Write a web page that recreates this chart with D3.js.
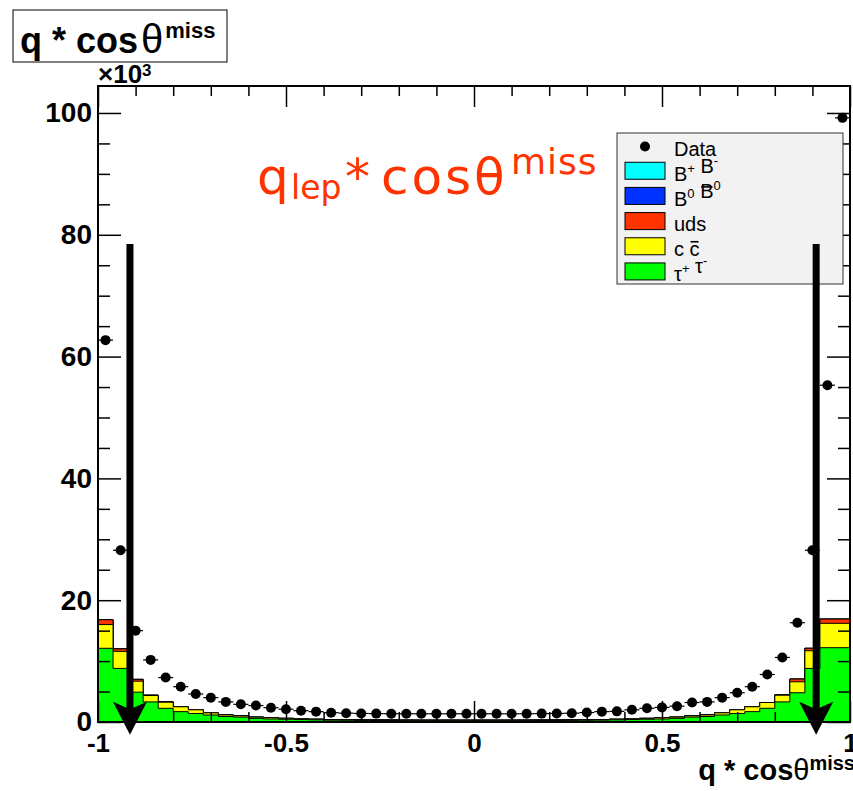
<!DOCTYPE html>
<html>
<head>
<meta charset="utf-8">
<script src="https://cdn.jsdelivr.net/npm/d3@7/dist/d3.min.js"></script>
<style>
  body { margin: 0; background: #fff; }
  svg { display: block; }
</style>
</head>
<body>
<div id="chart"></div>
<script>
// bin centres of the 50 bins between -1 and 1
const binCenters = [
  -0.98, -0.94, -0.90, -0.86, -0.82, -0.78, -0.74, -0.70, -0.66, -0.62,
  -0.58, -0.54, -0.50, -0.46, -0.42, -0.38, -0.34, -0.30, -0.26, -0.22,
  -0.18, -0.14, -0.10, -0.06, -0.02, 0.02, 0.06, 0.10, 0.14, 0.18,
  0.22, 0.26, 0.30, 0.34, 0.38, 0.42, 0.46, 0.50, 0.54, 0.58,
  0.62, 0.66, 0.70, 0.74, 0.78, 0.82, 0.86, 0.90, 0.94, 0.98
];
const binHalf = 0.02;

// data points (x10^3)
const dataCounts = [
  62.7, 28.2, 15.0, 10.2, 7.3, 5.8, 4.6, 4.0, 3.3, 2.9,
  2.7, 2.35, 2.1, 1.86, 1.7, 1.53, 1.45, 1.4, 1.38, 1.36,
  1.35, 1.35, 1.35, 1.35, 1.35, 1.35, 1.35, 1.35, 1.36, 1.38,
  1.4, 1.45, 1.55, 1.7, 1.75, 2.0, 2.25, 2.4, 2.6, 3.2,
  3.3, 4.0, 4.8, 5.8, 7.8, 10.6, 16.3, 28.2, 55.3, 99.2
];

// MC components (x10^3), stacked bottom -> top
const tautau = [
  12.1, 8.8, 4.9, 3.3, 2.25, 1.7, 1.4, 1.15, 0.9, 0.8,
  0.6, 0.5, 0.45, 0.4, 0.35, 0.3, 0.28, 0.26, 0.25, 0.24,
  0.23, 0.22, 0.22, 0.22, 0.22, 0.22, 0.22, 0.22, 0.23, 0.24,
  0.25, 0.26, 0.28, 0.3, 0.35, 0.4, 0.45, 0.5, 0.6, 0.8,
  0.9, 1.15, 1.4, 1.7, 2.25, 3.3, 4.8, 8.8, 12.2, 12.2
];
const ccbar = [
  3.9, 2.8, 1.8, 1.05, 1.0, 0.8, 0.6, 0.35, 0.25, 0.2,
  0.2, 0.2, 0.15, 0.12, 0.1, 0.1, 0.09, 0.08, 0.08, 0.08,
  0.08, 0.08, 0.08, 0.08, 0.08, 0.08, 0.08, 0.08, 0.08, 0.08,
  0.08, 0.08, 0.09, 0.1, 0.1, 0.12, 0.15, 0.2, 0.2, 0.2,
  0.25, 0.35, 0.6, 0.8, 0.95, 1.1, 1.8, 2.9, 4.0, 4.0
];
const uds = [
  0.8, 0.4, 0.3, 0.05, 0.05, 0, 0, 0, 0, 0,
  0, 0, 0, 0, 0, 0, 0, 0, 0, 0,
  0, 0, 0, 0, 0, 0, 0, 0, 0, 0,
  0, 0, 0, 0, 0, 0, 0, 0, 0, 0,
  0, 0, 0, 0, 0, 0.05, 0.45, 0.4, 0.7, 0.7
];
const b0b0 = new Array(50).fill(0);
const bpbm = new Array(50).fill(0);

const yMajor = [0, 20, 40, 60, 80, 100];
const yMinor = [5, 10, 15, 25, 30, 35, 45, 50, 55, 65, 70, 75, 85, 90, 95];
const xMajor = [-1, -0.5, 0, 0.5, 1];
const xMinor = [-0.9, -0.8, -0.7, -0.6, -0.4, -0.3, -0.2, -0.1, 0.1, 0.2, 0.3, 0.4, 0.6, 0.7, 0.8, 0.9];

// cut positions drawn as arrows
const arrowX = [-0.915, 0.91];
const arrowTop = 78.5;
const arrowTip = -2.1;

const legendLabels = ["Data", "B+B-", "B0B0", "uds", "cc", "tautau"];

const W = 853, H = 791;
const frame = { left: 98, right: 850, top: 86, bottom: 722 };
const font = "'Liberation Sans', Arial, Helvetica, sans-serif";

const svg = d3.select("#chart").append("svg")
  .attr("width", W).attr("height", H)
  .style("font-family", font);

const x = d3.scaleLinear().domain([-1, 1]).range([frame.left, frame.right]);
const y = d3.scaleLinear().domain([0, 104.43]).range([frame.bottom, frame.top]);

// ---- stacked histogram ----
const layers = [
  { vals: tautau, color: "#00ff00" },
  { vals: ccbar, color: "#ffff00" },
  { vals: uds, color: "#ff3300" },
  { vals: b0b0, color: "#0033ff" },
  { vals: bpbm, color: "#00ffff" }
];
let cum = binCenters.map(() => 0);
layers.forEach(l => {
  cum = cum.map((c, i) => c + l.vals[i]);
  l.tot = cum.slice();
});

const area = d3.area().curve(d3.curveStepAfter)
  .x(d => x(d.x0)).y0(y(0)).y1(d => y(d.v));
const line = d3.line().curve(d3.curveStepAfter)
  .x(d => x(d.x0)).y(d => y(d.v));

const gHist = svg.append("g");
layers.slice().reverse().forEach(l => {
  const pts = binCenters.map((c, i) => ({ x0: c - binHalf, v: l.tot[i] }));
  pts.push({ x0: 1, v: l.tot[l.tot.length - 1] });
  gHist.append("path").datum(pts)
    .attr("d", area).attr("fill", l.color).attr("stroke", "none");
  gHist.append("path").datum(pts)
    .attr("d", line).attr("fill", "none")
    .attr("stroke", "#000").attr("stroke-width", 1);
});

// ---- axes (ROOT style, ticks inside) ----
function styleAxis(g) {
  g.select(".domain").remove();
  g.selectAll("line").attr("stroke", "#000").attr("stroke-width", 1.5);
  g.selectAll("text").attr("fill", "#000").style("font-weight", "bold");
}

svg.append("g").attr("transform", "translate(0," + frame.bottom + ")")
  .call(d3.axisBottom(x).tickValues(xMajor).tickSize(-21).tickPadding(12)
    .tickFormat(d => d === 0 ? "0" : String(d)))
  .call(styleAxis)
  .selectAll("text").style("font-size", "26px");
svg.append("g").attr("transform", "translate(0," + frame.bottom + ")")
  .call(d3.axisBottom(x).tickValues(xMinor).tickSize(-10).tickFormat(""))
  .call(styleAxis);
svg.append("g").attr("transform", "translate(0," + frame.top + ")")
  .call(d3.axisTop(x).tickValues(xMajor).tickSize(-21).tickFormat(""))
  .call(styleAxis);
svg.append("g").attr("transform", "translate(0," + frame.top + ")")
  .call(d3.axisTop(x).tickValues(xMinor).tickSize(-10).tickFormat(""))
  .call(styleAxis);

svg.append("g").attr("transform", "translate(" + frame.left + ",0)")
  .call(d3.axisLeft(y).tickValues(yMajor).tickSize(-23).tickPadding(6))
  .call(styleAxis)
  .selectAll("text").style("font-size", "28px");
svg.append("g").attr("transform", "translate(" + frame.left + ",0)")
  .call(d3.axisLeft(y).tickValues(yMinor).tickSize(-12).tickFormat(""))
  .call(styleAxis);
svg.append("g").attr("transform", "translate(" + frame.right + ",0)")
  .call(d3.axisRight(y).tickValues(yMajor).tickSize(-23).tickFormat(""))
  .call(styleAxis);
svg.append("g").attr("transform", "translate(" + frame.right + ",0)")
  .call(d3.axisRight(y).tickValues(yMinor).tickSize(-12).tickFormat(""))
  .call(styleAxis);

svg.append("rect")
  .attr("x", frame.left).attr("y", frame.top)
  .attr("width", frame.right - frame.left).attr("height", frame.bottom - frame.top)
  .attr("fill", "none").attr("stroke", "#000").attr("stroke-width", 2);

// x10^3 multiplier
const mult = svg.append("text").attr("x", 98).attr("y", 83)
  .style("font-size", "26px").style("font-weight", "bold");
mult.append("tspan").text("\u00d710");
mult.append("tspan").attr("dy", -7).style("font-size", "17px").text("3");

// ---- data points ----
const gData = svg.append("g");
gData.selectAll("line.err").data(binCenters).enter().append("line")
  .attr("x1", d => x(d - binHalf)).attr("x2", d => x(d + binHalf))
  .attr("y1", (d, i) => y(dataCounts[i])).attr("y2", (d, i) => y(dataCounts[i]))
  .attr("stroke", "#000").attr("stroke-width", 1.2);
gData.selectAll("circle").data(binCenters).enter().append("circle")
  .attr("cx", d => x(d)).attr("cy", (d, i) => y(dataCounts[i]))
  .attr("r", 5).attr("fill", "#000");

// ---- legend ----
const leg = { x: 617, y: 133, w: 226, h: 151 };
const gLeg = svg.append("g");
gLeg.append("rect").attr("x", leg.x).attr("y", leg.y)
  .attr("width", leg.w).attr("height", leg.h)
  .attr("fill", "#f2f2f2").attr("stroke", "#333").attr("stroke-width", 1);
const rowH = leg.h / legendLabels.length;
const legColors = [null, "#00ffff", "#0033ff", "#ff3300", "#ffff00", "#00ff00"];
const bars = [];
legendLabels.forEach((lab, i) => {
  const cy = leg.y + rowH * (i + 0.5);
  if (i === 0) {
    gLeg.append("circle").attr("cx", 645).attr("cy", cy + 1).attr("r", 5).attr("fill", "#000");
  } else {
    gLeg.append("rect").attr("x", 625).attr("y", cy - 8.5).attr("width", 40).attr("height", 17)
      .attr("fill", legColors[i]).attr("stroke", "#000").attr("stroke-width", 1);
  }
  const base = cy + 10;
  const t = gLeg.append("text").attr("x", 674).attr("y", base).style("font-size", "20px");
  const sup = (s) => { t.append("tspan").attr("dy", -8).style("font-size", "13px").text(s); t.append("tspan").attr("dy", 8).text(""); };
  // letter that gets a bar on top (anti-particle)
  const barred = (s, h) => { bars.push({ node: t.append("tspan").text(s).node(), y: base - h }); };
  if (lab === "Data") t.append("tspan").text("Data");
  else if (lab === "B+B-") { t.append("tspan").text("B"); sup("+"); t.append("tspan").text(" B"); sup("-"); }
  else if (lab === "B0B0") { t.append("tspan").text("B"); sup("0"); t.append("tspan").text(" "); barred("B", 19); sup("0"); }
  else if (lab === "uds") t.append("tspan").text("uds");
  else if (lab === "cc") { t.append("tspan").text("c "); barred("c", 14.5); }
  else { t.append("tspan").text("\u03c4"); sup("+"); t.append("tspan").text(" \u03c4"); sup("-"); }
});
bars.forEach(b => {
  const x0 = b.node.getStartPositionOfChar(0).x;
  const x1 = b.node.getEndPositionOfChar(0).x;
  gLeg.append("line").attr("x1", x0 + 1).attr("x2", x1 - 1)
    .attr("y1", b.y).attr("y2", b.y)
    .attr("stroke", "#000").attr("stroke-width", 1.6);
});

// ---- cut arrows ----
const headLen = 33, headHalf = 17, shaftHalf = 3.5;
arrowX.forEach(ax => {
  const cx = x(ax), yt = y(arrowTop), yp = y(arrowTip);
  const yb = yp - headLen;
  svg.append("path")
    .attr("d", "M" + (cx - shaftHalf) + "," + yt + "L" + (cx + shaftHalf) + "," + yt +
      "L" + (cx + shaftHalf) + "," + (yb + 6) + "L" + (cx + headHalf) + "," + yb +
      "L" + cx + "," + yp + "L" + (cx - headHalf) + "," + yb +
      "L" + (cx - shaftHalf) + "," + (yb + 6) + "Z")
    .attr("fill", "#000");
});

// ---- red annotation ----
const red = svg.append("text").attr("y", 194)
  .attr("fill", "#ff3300")
  .style("font-family", "'Comic Sans MS', 'DejaVu Sans', sans-serif")
  .style("font-size", "50px");
red.append("tspan").attr("x", 257).text("q");
red.append("tspan").attr("x", 291).attr("dy", 5).style("font-size", "33px").text("lep");
red.append("tspan").attr("x", 345).attr("dy", -5).text("*");
red.append("tspan").attr("x", 381).style("letter-spacing", "3px").text("cos");
red.append("tspan").attr("x", 474).text("\u03b8");
red.append("tspan").attr("x", 511).attr("dy", -20).style("font-size", "36px")
  .style("letter-spacing", "1px").text("miss");

// ---- title box ----
svg.append("rect").attr("x", 13).attr("y", 10).attr("width", 214).attr("height", 52)
  .attr("fill", "#fff").attr("stroke", "#000").attr("stroke-width", 1);
const title = svg.append("text").attr("x", 20).attr("y", 53)
  .style("font-size", "36px").style("font-weight", "bold");
title.append("tspan").text("q * cos");
title.append("tspan").attr("dx", 3).style("font-weight", "normal").style("font-size", "40px").text("\u03b8");
title.append("tspan").attr("dx", 2).attr("dy", -15).style("font-size", "22px").text("miss");

// ---- x axis title ----
const xt = svg.append("text").attr("x", 855).attr("y", 780)
  .attr("text-anchor", "end")
  .style("font-size", "29px").style("font-weight", "bold");
xt.append("tspan").text("q * cos");
xt.append("tspan").style("font-weight", "normal").text("\u03b8");
xt.append("tspan").attr("dy", -10).style("font-size", "20px").text("miss");
</script>
</body>
</html>
